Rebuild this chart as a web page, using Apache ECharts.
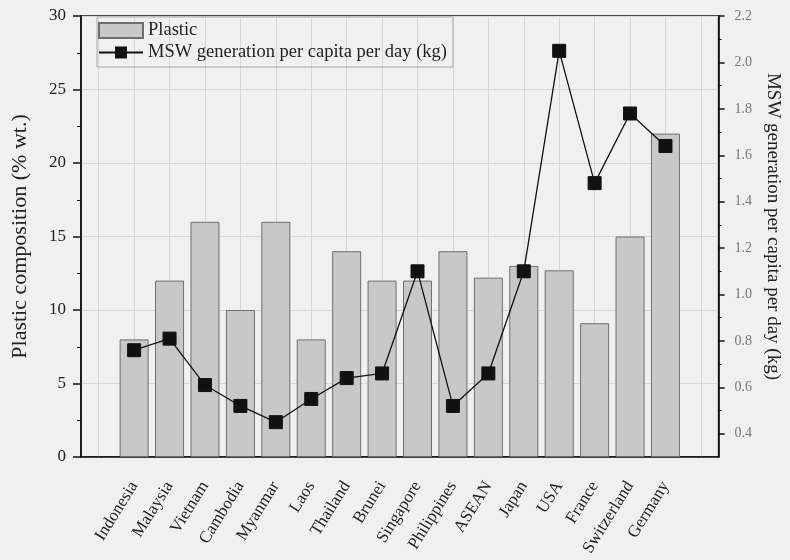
<!DOCTYPE html>
<html>
<head>
<meta charset="utf-8">
<script src="https://cdn.jsdelivr.net/npm/echarts@6/dist/echarts.min.js"></script>
<style>
html,body{margin:0;padding:0;background:#f0f0f0;}
#c{width:790px;height:560px;}
</style>
</head>
<body>
<div id="c"></div>
<script>
const countries = ['Indonesia','Malaysia','Vietnam','Cambodia','Myanmar','Laos','Thailand','Brunei','Singapore','Philippines','ASEAN','Japan','USA','France','Switzerland','Germany'];
const plastic = [8, 12, 16, 10, 16, 8, 14, 12, 12, 14, 12.2, 13, 12.7, 9.1, 15, 22];
const msw = [0.76, 0.81, 0.61, 0.52, 0.45, 0.55, 0.64, 0.66, 1.10, 0.52, 0.66, 1.10, 2.05, 1.48, 1.78, 1.64];
const leftTicks = [0, 5, 10, 15, 20, 25, 30];
const rightTicks = [0.4, 0.6, 0.8, 1.0, 1.2, 1.4, 1.6, 1.8, 2.0, 2.2];
const rightMinorTicks = [0.5, 0.7, 0.9, 1.1, 1.3, 1.5, 1.7, 1.9, 2.1];

const cats = [' '].concat(countries, ['  ']);
const barData = [null].concat(plastic, [null]);
const lineData = [null].concat(msw, [null]);
const FONT = "'Liberation Serif', 'Times New Roman', serif";

const chart = echarts.init(document.getElementById('c'));
chart.setOption({
  backgroundColor: '#f0f0f0',
  animation: false,
  textStyle: { fontFamily: FONT },
  grid: { left: 81, right: 68, top: 16, bottom: 103, show: true, borderColor: '#111', borderWidth: 1.5, backgroundColor: '#f0f0f0' },
  legend: {
    orient: 'vertical', left: 97, top: 17,
    padding: [4, 6, 5, 1], itemGap: 3,
    itemWidth: 44, itemHeight: 15,
    borderColor: '#aaa', borderWidth: 1,
    textStyle: { fontFamily: FONT, fontSize: 18.5, color: '#222' },
    data: [
      { name: 'Plastic', icon: 'rect' },
      { name: 'MSW generation per capita per day (kg)' }
    ]
  },
  xAxis: {
    type: 'category', data: cats, boundaryGap: true,
    axisLine: { lineStyle: { color: '#111', width: 1.5 } },
    axisTick: { alignWithLabel: true, length: 8, lineStyle: { color: '#111', width: 1.5 } },
    splitLine: { show: true, alignWithLabel: true, lineStyle: { color: '#d6d6d6', width: 1 } },
    axisLabel: { interval: 0, rotate: 58, margin: 26, fontFamily: FONT, fontSize: 17, color: '#222' }
  },
  yAxis: [
    {
      type: 'value', min: 0, max: 30, interval: 5, position: 'left',
      name: 'Plastic composition (% wt.)', nameLocation: 'middle', nameGap: 50,
      nameTextStyle: { fontFamily: FONT, fontSize: 22, color: '#222' },
      axisLine: { show: true, lineStyle: { color: '#111', width: 1.5 } },
      axisTick: { show: true, length: 8, lineStyle: { color: '#111', width: 1.5 } },
      minorTick: { show: true, splitNumber: 2, length: 4, lineStyle: { color: '#111' } },
      splitLine: { show: true, lineStyle: { color: '#d6d6d6', width: 1 } },
      axisLabel: { margin: 15, fontFamily: FONT, fontSize: 17, color: '#222', customValues: leftTicks }
    },
    {
      type: 'value', min: 0.3, max: 2.2, position: 'right',
      name: 'MSW generation per capita per day (kg)', nameLocation: 'middle', nameGap: 44, nameRotate: -90,
      nameTextStyle: { fontFamily: FONT, fontSize: 19, color: '#222', padding: [0, 20, 0, 0] },
      axisLine: { show: true, lineStyle: { color: '#111', width: 1.5 } },
      axisTick: { show: true, length: 6, customValues: rightTicks, lineStyle: { color: '#111', width: 1.5 } },
      splitLine: { show: false },
      axisLabel: { margin: 16, fontFamily: FONT, fontSize: 14, color: '#777', customValues: rightTicks,
        formatter: v => v.toFixed(1) }
    },
    {
      type: 'value', min: 0.3, max: 2.2, position: 'right',
      axisLine: { show: false },
      axisTick: { show: true, length: 3, customValues: rightMinorTicks, lineStyle: { color: '#111', width: 1 } },
      splitLine: { show: false },
      axisLabel: { show: false }
    }
  ],
  series: [
    {
      name: 'Plastic', type: 'bar', data: barData, barWidth: 29, yAxisIndex: 0,
      itemStyle: { color: '#c8c8c8', borderColor: '#6e6e6e', borderWidth: 1 }
    },
    {
      name: 'MSW generation per capita per day (kg)', type: 'line', data: lineData, yAxisIndex: 1,
      symbol: 'rect', symbolSize: 13,
      lineStyle: { color: '#111', width: 1.3 },
      itemStyle: { color: '#111', borderColor: '#111' }
    }
  ]
});
</script>
</body>
</html>
